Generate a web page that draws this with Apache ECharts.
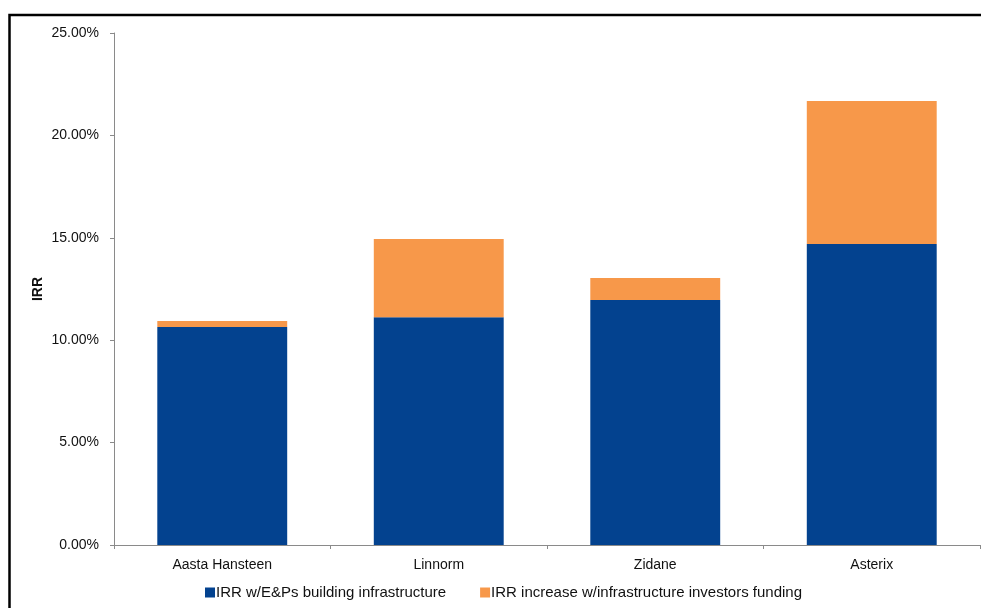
<!DOCTYPE html>
<html>
<head>
<meta charset="utf-8">
<script src="https://cdn.jsdelivr.net/npm/echarts@6/dist/echarts.min.js"></script>
<style>
  html, body { margin: 0; padding: 0; background: #fff; }
  #chart { width: 981px; height: 608px; }
</style>
</head>
<body>
<div id="chart"></div>
<script>
const categories = ["Aasta Hansteen", "Linnorm", "Zidane", "Asterix"];
const baseIrr = [10.64, 11.12, 11.96, 14.70];
const irrIncrease = [0.30, 3.82, 1.08, 6.98];
const seriesNames = [
  "IRR w/E&Ps building infrastructure",
  "IRR increase w/infrastructure investors funding",
];

const font = "'Liberation Sans', Arial, sans-serif";
const chart = echarts.init(document.getElementById("chart"));

chart.setOption({
  animation: false,
  textStyle: { fontFamily: font },
  graphic: [
    {
      type: "rect",
      shape: { x: 9.5, y: 15, width: 1100, height: 800 },
      style: { fill: "none", stroke: "#000", lineWidth: 2.5 },
      silent: true,
    },
  ],
  grid: { left: 114, right: 1, top: 33, bottom: 63 },
  legend: {
    bottom: 3,
    left: 200,
    itemWidth: 10,
    itemHeight: 10,
    itemGap: 34,
    icon: "rect",
    textStyle: { fontSize: 15, color: "#111", fontFamily: font, padding: [0, 0, 0, -4] },
    data: seriesNames,
  },
  xAxis: {
    type: "category",
    data: categories,
    axisLine: { lineStyle: { color: "#8a8a8a", width: 1 } },
    axisTick: { show: true, length: 4, lineStyle: { color: "#8a8a8a" } },
    axisLabel: { fontSize: 14, color: "#111", margin: 13, fontFamily: font },
  },
  yAxis: {
    type: "value",
    min: 0,
    max: 25,
    interval: 5,
    name: "IRR",
    nameLocation: "middle",
    nameGap: 69,
    nameMoveOverlap: false,
    nameTextStyle: { fontSize: 14, fontWeight: "bold", color: "#111", fontFamily: font },
    axisLine: { show: true, lineStyle: { color: "#8a8a8a", width: 1 } },
    axisTick: { show: true, length: 4, lineStyle: { color: "#8a8a8a" } },
    splitLine: { show: false },
    axisLabel: {
      fontSize: 14,
      color: "#111",
      margin: 15,
      fontFamily: font,
      formatter: (v) => v.toFixed(2) + "%",
    },
  },
  series: [
    {
      name: seriesNames[0],
      type: "bar",
      stack: "irr",
      data: baseIrr,
      barCategoryGap: "40%",
      itemStyle: { color: "#03428f" },
    },
    {
      name: seriesNames[1],
      type: "bar",
      stack: "irr",
      data: irrIncrease,
      barCategoryGap: "40%",
      itemStyle: { color: "#f7984a" },
    },
  ],
});
</script>
</body>
</html>
